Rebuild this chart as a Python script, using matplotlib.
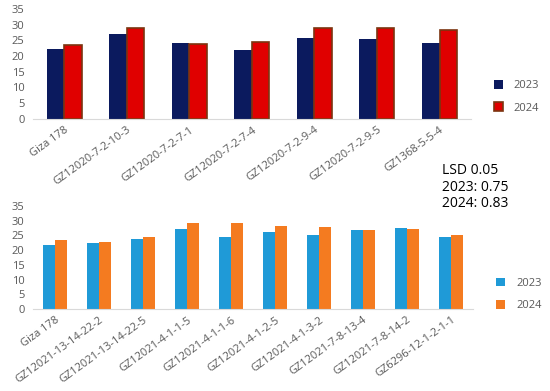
import matplotlib
matplotlib.use('Agg')
from matplotlib import pyplot as plt
import numpy as np

plt.rcParams['font.family'] = ['Open Sans', 'DejaVu Sans']

top_names = ['Giza 178', 'GZ12020-7-2-10-3', 'GZ12020-7-2-7-1', 'GZ12020-7-2-7-4',
             'GZ12020-7-2-9-4', 'GZ12020-7-2-9-5', 'GZ1368-5-5-4']
top_2023 = [22.3, 27.1, 24.2, 22.0, 25.8, 25.5, 24.2]
top_2024 = [23.6, 28.9, 24.0, 24.5, 28.9, 28.9, 28.2]

bot_names = ['Giza 178', 'GZ12021-13-14-22-2', 'GZ12021-13-14-22-5', 'GZ12021-4-1-1-5',
             'GZ12021-4-1-1-6', 'GZ12021-4-1-2-5', 'GZ12021-4-1-3-2', 'GZ12021-7-8-13-4',
             'GZ12021-7-8-14-2', 'GZ6296-12-1-2-1-1']
bot_2023 = [21.9, 22.4, 23.7, 27.3, 24.4, 26.0, 25.1, 26.7, 27.6, 24.6]
bot_2024 = [23.3, 22.8, 24.4, 29.2, 29.2, 28.2, 28.0, 26.7, 27.3, 25.1]

lsd_text = 'LSD 0.05\n2023: 0.75\n2024: 0.83'

gray = '#595959'
fig = plt.figure(figsize=(5.5, 3.91), dpi=100)


def style(ax, n):
    ax.set_xlim(-0.5, n - 0.5)
    ax.set_ylim(0, 35)
    ax.set_yticks(range(0, 36, 5))
    for s in ['top', 'right', 'left']:
        ax.spines[s].set_visible(False)
    ax.spines['bottom'].set_color('#d9d9d9')
    ax.tick_params(axis='both', length=0, colors=gray, labelsize=8)
    ax.tick_params(axis='y', pad=6)
    ax.tick_params(axis='x', pad=4)


ax1 = fig.add_axes([0.06, 0.696, 0.796, 0.281])
x = np.arange(len(top_names))
w = 0.28
ax1.bar(x - w / 2, top_2023, w, color='#0b1a5e', label='2023')
ax1.bar(x + w / 2, top_2024, w, color='#e00000', edgecolor='#7b3510', linewidth=1.2, label='2024')
style(ax1, len(top_names))
ax1.set_xticks(x)
ax1.set_xticklabels(top_names, rotation=36, ha='right', rotation_mode='anchor')
ax1.legend(loc='center left', bbox_to_anchor=(1.03, 0.2), frameon=False,
           fontsize=8, labelcolor=gray, handlelength=0.8, handleheight=0.8,
           handletextpad=1.0, labelspacing=1.0)

ax2 = fig.add_axes([0.06, 0.21, 0.8, 0.263])
x2 = np.arange(len(bot_names))
w2 = 0.28
ax2.bar(x2 - w2 / 2, bot_2023, w2, color='#1f9ad7', label='2023')
ax2.bar(x2 + w2 / 2, bot_2024, w2, color='#f47b20', label='2024')
style(ax2, len(bot_names))
ax2.set_xticks(x2)
ax2.set_xticklabels(bot_names, rotation=36, ha='right', rotation_mode='anchor')
ax2.legend(loc='center left', bbox_to_anchor=(1.03, 0.14), frameon=False,
           fontsize=8, labelcolor=gray, handlelength=0.8, handleheight=0.8,
           handletextpad=1.0, labelspacing=1.0)

fig.text(0.804, 0.583, lsd_text, fontsize=10, color='black', va='top', linespacing=1.15)

plt.savefig('out.png', dpi=100)
